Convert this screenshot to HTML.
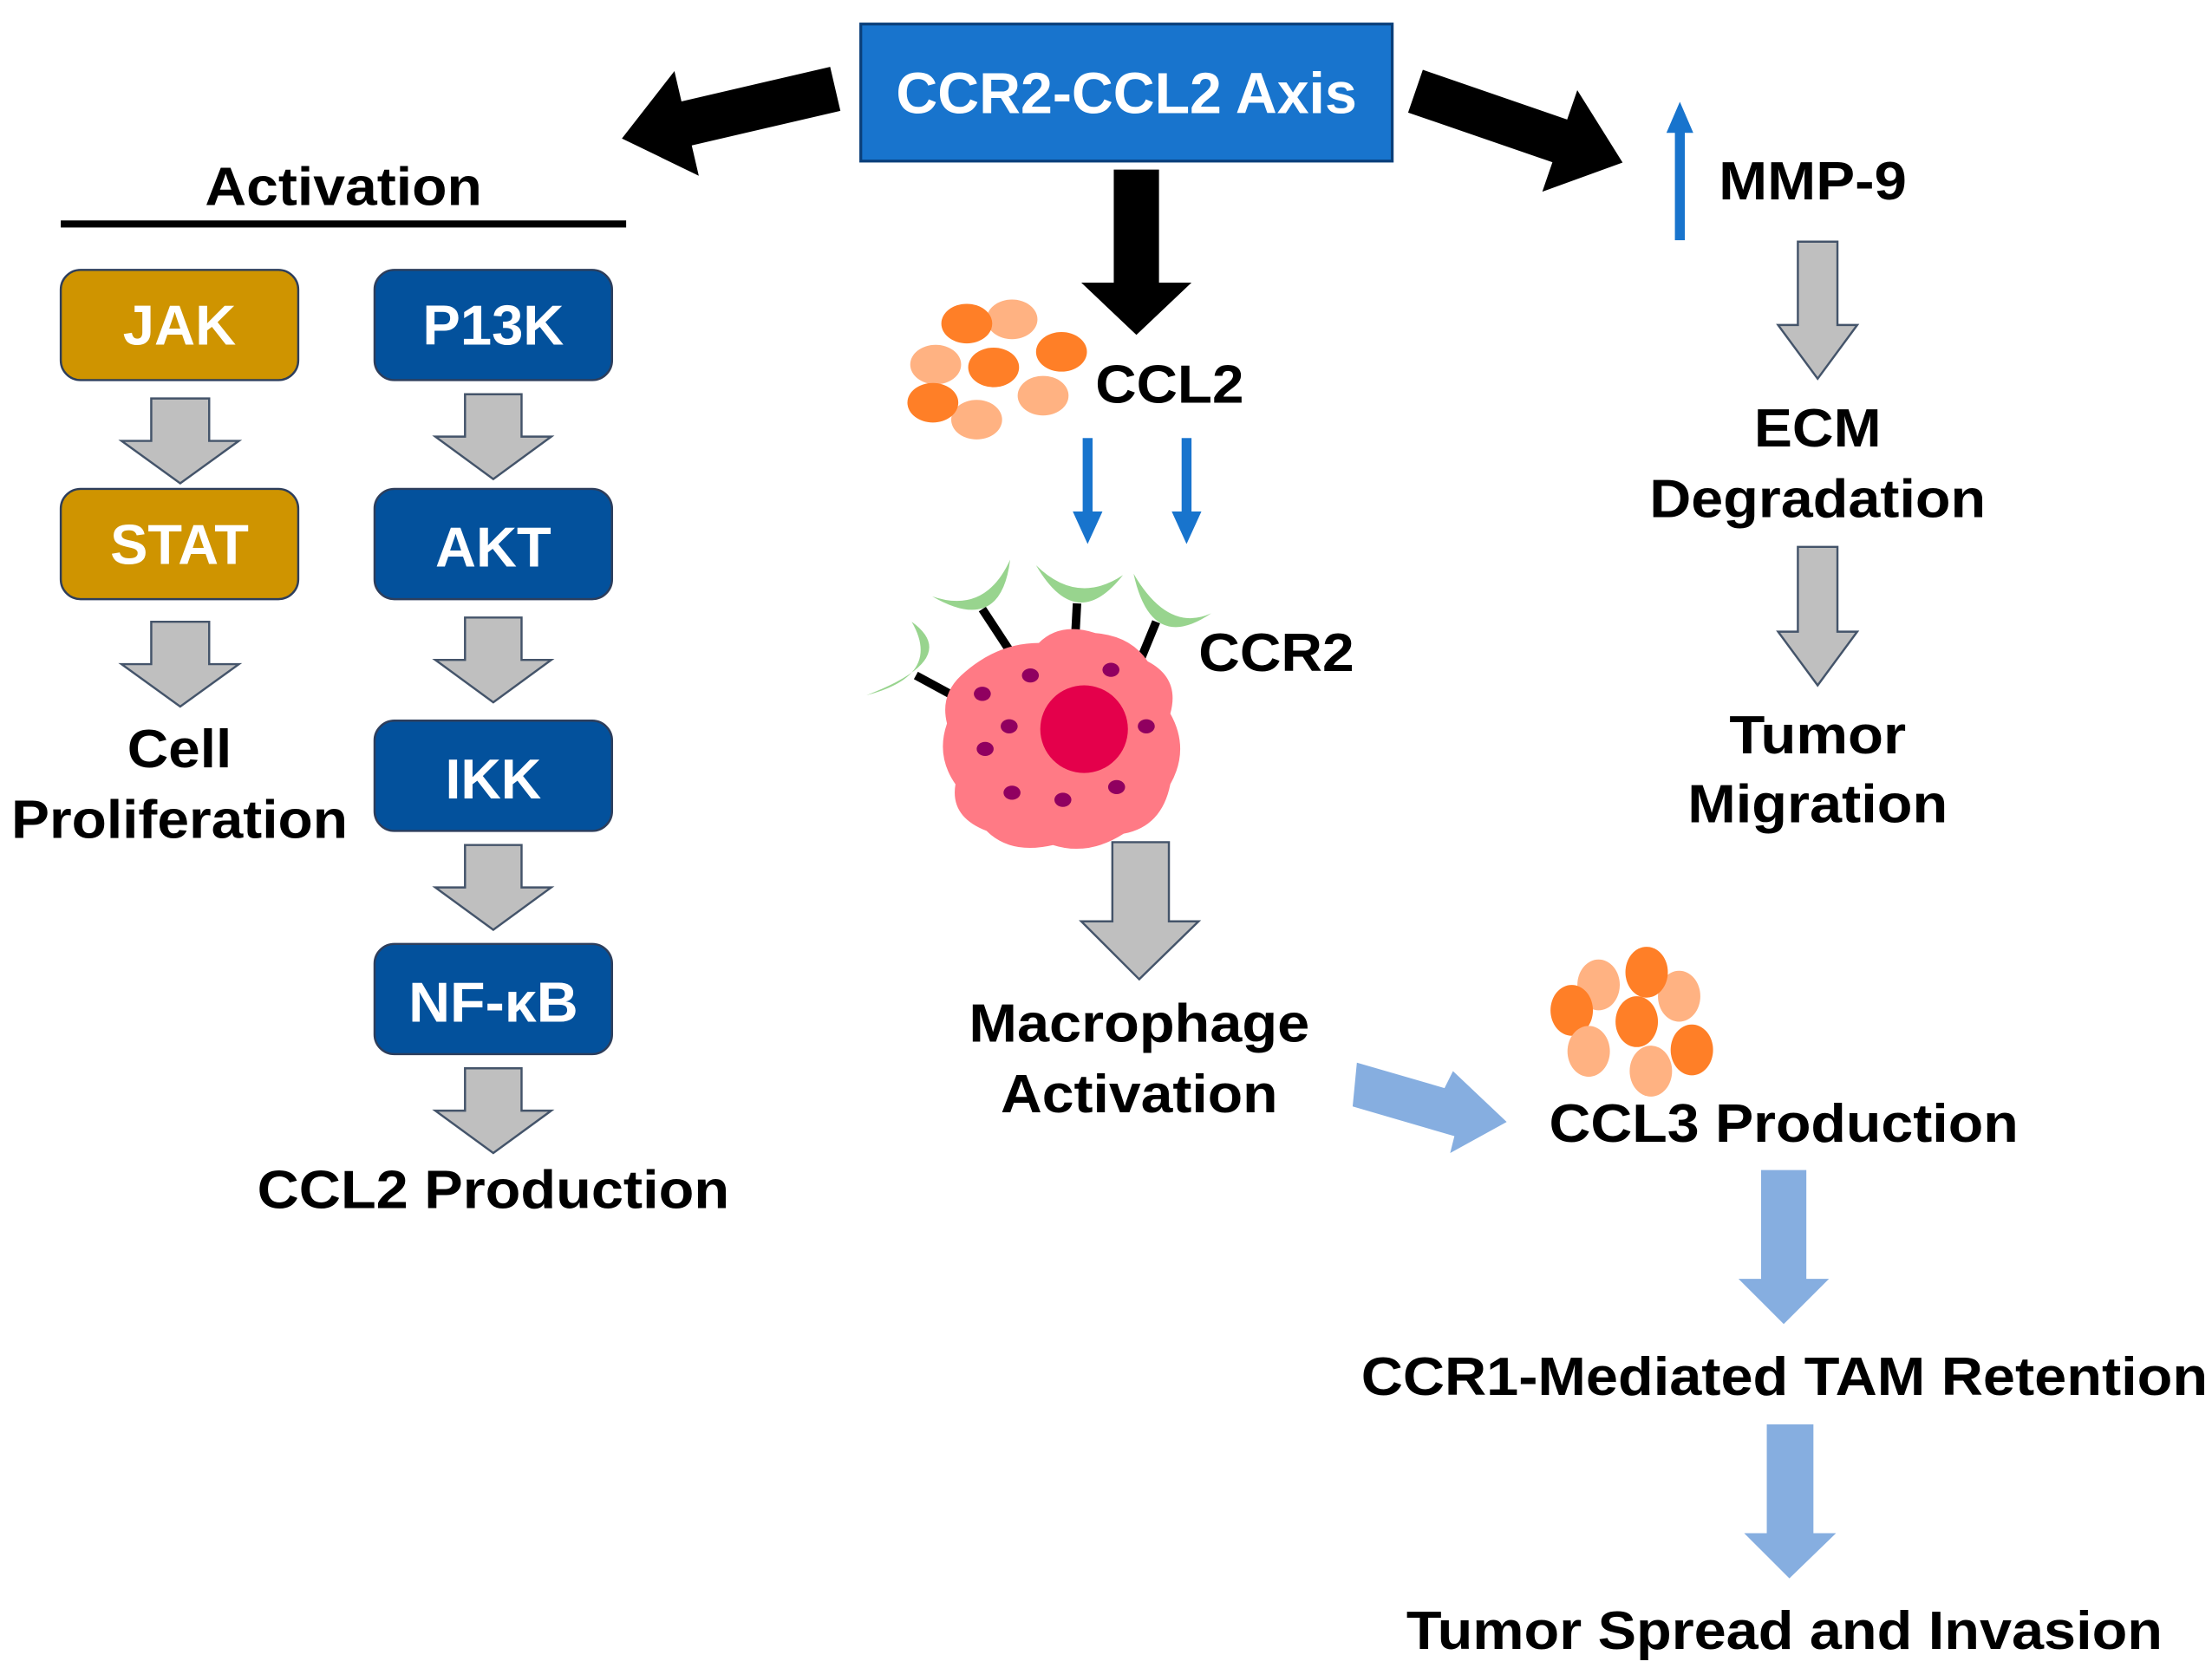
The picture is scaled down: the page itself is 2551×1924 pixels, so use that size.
<!DOCTYPE html>
<html><head><meta charset="utf-8"><style>html,body{margin:0;padding:0;background:#fff}svg{display:block}</style></head>
<body>
<svg width="2551" height="1924" viewBox="0 0 1565 1180.4" preserveAspectRatio="none" xmlns="http://www.w3.org/2000/svg" font-family="'Liberation Sans Narrow','Liberation Sans',sans-serif" font-weight="bold">
<defs>
<path id="blk" d="M0,0 L-47,-38 L-47,-16 L-155,-16 L-155,16 L-47,16 L-47,38 Z"/>
</defs>
<rect x="609" y="17" width="376" height="97" fill="#1874cd" stroke="#0a3f7a" stroke-width="2"/>
<text x="797" y="80" font-size="41" fill="#fff" text-anchor="middle" textLength="326" lengthAdjust="spacingAndGlyphs">CCR2-CCL2 Axis</text>
<use href="#blk" transform="translate(440,98) rotate(166.9)" fill="#000"/>
<use href="#blk" transform="translate(1148,115) rotate(19)" fill="#000"/>
<path d="M788,120 L820,120 L820,200 L843,200 L804,237 L765,200 L788,200 Z" fill="#000"/>
<text x="243" y="145" font-size="38" text-anchor="middle" textLength="196" lengthAdjust="spacingAndGlyphs">Activation</text>
<rect x="43" y="156" width="400" height="5" fill="#000"/>
<g stroke="#2d3e5c" stroke-width="1.5">
<rect x="43" y="191" width="168" height="78" rx="14" fill="#cf9400"/>
<rect x="43" y="346" width="168" height="78" rx="14" fill="#cf9400"/>
<rect x="265" y="191" width="168" height="78" rx="14" fill="#03519c"/>
<rect x="265" y="346" width="168" height="78" rx="14" fill="#03519c"/>
<rect x="265" y="510" width="168" height="78" rx="14" fill="#03519c"/>
<rect x="265" y="668" width="168" height="78" rx="14" fill="#03519c"/>
</g>
<g fill="#fff" font-size="40" text-anchor="middle">
<text x="127" y="244" textLength="80" lengthAdjust="spacingAndGlyphs">JAK</text>
<text x="127" y="399" textLength="98" lengthAdjust="spacingAndGlyphs">STAT</text>
<text x="349" y="244" textLength="100" lengthAdjust="spacingAndGlyphs">P13K</text>
<text x="349" y="401" textLength="82" lengthAdjust="spacingAndGlyphs">AKT</text>
<text x="349" y="565" textLength="68" lengthAdjust="spacingAndGlyphs">IKK</text>
<text x="349" y="723" textLength="120" lengthAdjust="spacingAndGlyphs">NF-κB</text>
</g>
<g fill="#bfbfbf" stroke="#44546a" stroke-width="1.5">
<path d="M107,282 L148,282 L148,312 L169,312 L127.5,342 L86,312 L107,312 Z"/>
<path d="M107,440 L148,440 L148,470 L169,470 L127.5,500 L86,470 L107,470 Z"/>
<path d="M329,279 L369,279 L369,309 L390,309 L349,339 L308,309 L329,309 Z"/>
<path d="M329,437 L369,437 L369,467 L390,467 L349,497 L308,467 L329,467 Z"/>
<path d="M329,598 L369,598 L369,628 L390,628 L349,658 L308,628 L329,628 Z"/>
<path d="M329,756 L369,756 L369,786 L390,786 L349,816 L308,786 L329,786 Z"/>
<path d="M1272,171 L1300,171 L1300,230 L1314,230 L1286,268 L1258,230 L1272,230 Z"/>
<path d="M1272,387 L1300,387 L1300,447 L1314,447 L1286,485 L1258,447 L1272,447 Z"/>
<path d="M787,596 L827,596 L827,652 L848,652 L806,693 L765,652 L787,652 Z"/>
</g>
<g font-size="38" text-anchor="middle">
<text x="127" y="543" textLength="74" lengthAdjust="spacingAndGlyphs">Cell</text>
<text x="127" y="593" textLength="238" lengthAdjust="spacingAndGlyphs">Proliferation</text>
<text x="349" y="855" textLength="334" lengthAdjust="spacingAndGlyphs">CCL2 Production</text>
<text x="806" y="737" textLength="241" lengthAdjust="spacingAndGlyphs">Macrophage</text>
<text x="806" y="787" textLength="196" lengthAdjust="spacingAndGlyphs">Activation</text>
<text x="1286" y="316" textLength="90" lengthAdjust="spacingAndGlyphs">ECM</text>
<text x="1286" y="366" textLength="238" lengthAdjust="spacingAndGlyphs">Degradation</text>
<text x="1286" y="533" textLength="125" lengthAdjust="spacingAndGlyphs">Tumor</text>
<text x="1286" y="582" textLength="184" lengthAdjust="spacingAndGlyphs">Migration</text>
</g>
<g font-size="38">
<text x="1216" y="141" textLength="133" lengthAdjust="spacingAndGlyphs">MMP-9</text>
<text x="775" y="285" textLength="105" lengthAdjust="spacingAndGlyphs">CCL2</text>
<text x="848" y="475" textLength="110" lengthAdjust="spacingAndGlyphs">CCR2</text>
<text x="1096" y="808" textLength="332" lengthAdjust="spacingAndGlyphs">CCL3 Production</text>
<text x="963" y="987" textLength="599" lengthAdjust="spacingAndGlyphs">CCR1-Mediated TAM Retention</text>
<text x="995" y="1167" textLength="535" lengthAdjust="spacingAndGlyphs">Tumor Spread and Invasion</text>
</g>
<g fill="#1874cd">
<rect x="1185" y="92" width="7" height="78"/><path d="M1179,94 L1188.5,72 L1198,94 Z"/>
<rect x="766" y="310" width="7" height="55"/><path d="M759,362 L769.5,385 L780,362 Z"/>
<rect x="836" y="310" width="7" height="55"/><path d="M829,362 L839.5,385 L850,362 Z"/>
</g>
<g fill="#86aee0">
<path d="M960,752 L1022,770 L1028,758 L1066,794 L1026,816 L1029,804 L957,783 Z"/>
<path d="M1246,828 L1278,828 L1278,905 L1294,905 L1262,937 L1230,905 L1246,905 Z"/>
<path d="M1250,1008 L1283,1008 L1283,1085 L1299,1085 L1266,1117 L1234,1085 L1250,1085 Z"/>
</g>
<g>
<ellipse cx="716" cy="226" rx="18" ry="14" fill="#ffb282"/>
<ellipse cx="684" cy="229" rx="18" ry="14" fill="#ff7f27"/>
<ellipse cx="662" cy="258" rx="18" ry="14" fill="#ffb282"/>
<ellipse cx="703" cy="260" rx="18" ry="14" fill="#ff7f27"/>
<ellipse cx="751" cy="249" rx="18" ry="14" fill="#ff7f27"/>
<ellipse cx="738" cy="280" rx="18" ry="14" fill="#ffb282"/>
<ellipse cx="691" cy="297" rx="18" ry="14" fill="#ffb282"/>
<ellipse cx="660" cy="285" rx="18" ry="14" fill="#ff7f27"/>
</g>
<g>
<ellipse cx="1131" cy="697" rx="15" ry="18" fill="#ffb282"/>
<ellipse cx="1188" cy="705" rx="15" ry="18" fill="#ffb282"/>
<ellipse cx="1165" cy="688" rx="15" ry="18" fill="#ff7f27"/>
<ellipse cx="1112" cy="715" rx="15" ry="18" fill="#ff7f27"/>
<ellipse cx="1124" cy="744" rx="15" ry="18" fill="#ffb282"/>
<ellipse cx="1158" cy="723" rx="15" ry="18" fill="#ff7f27"/>
<ellipse cx="1168" cy="758" rx="15" ry="18" fill="#ffb282"/>
<ellipse cx="1197" cy="743" rx="15" ry="18" fill="#ff7f27"/>
</g>
<g>
<g stroke="#000" stroke-width="6">
<line x1="648" y1="478" x2="683" y2="497"/>
<line x1="695" y1="431" x2="716" y2="463"/>
<line x1="762" y1="427" x2="760" y2="464"/>
<line x1="818" y1="440" x2="804" y2="474"/>
</g>
<g fill="#98d48e">
<path d="M613,492 Q681,466 645,440 Q667,478 613,492 Z"/>
<path d="M659.5,422 Q708,450 714.7,396 Q697,435 659.5,422 Z"/>
<path d="M733,400 Q761.5,449 794.5,407 Q762,428.5 733,400 Z"/>
<path d="M802,406 Q814.5,463 857,434 Q826.5,448 802,406 Z"/>
</g>
<path d="M680,478 Q705,455 735,455 Q750,440 775,448 Q800,450 812,468 Q835,480 828,505 Q842,530 828,555 Q822,585 795,590 Q770,606 745,598 Q715,605 698,588 Q672,578 676,555 Q662,535 670,512 Q665,492 680,478 Z" fill="#ff7a85"/>
<circle cx="767" cy="516" r="31" fill="#e4004b"/>
<g fill="#900060">
<ellipse cx="695" cy="491" rx="6" ry="5"/>
<ellipse cx="729" cy="478" rx="6" ry="5"/>
<ellipse cx="786" cy="474" rx="6" ry="5"/>
<ellipse cx="714" cy="514" rx="6" ry="5"/>
<ellipse cx="697" cy="530" rx="6" ry="5"/>
<ellipse cx="811" cy="514" rx="6" ry="5"/>
<ellipse cx="716" cy="561" rx="6" ry="5"/>
<ellipse cx="752" cy="566" rx="6" ry="5"/>
<ellipse cx="790" cy="557" rx="6" ry="5"/>
</g>
</g>
</svg>
</body></html>
